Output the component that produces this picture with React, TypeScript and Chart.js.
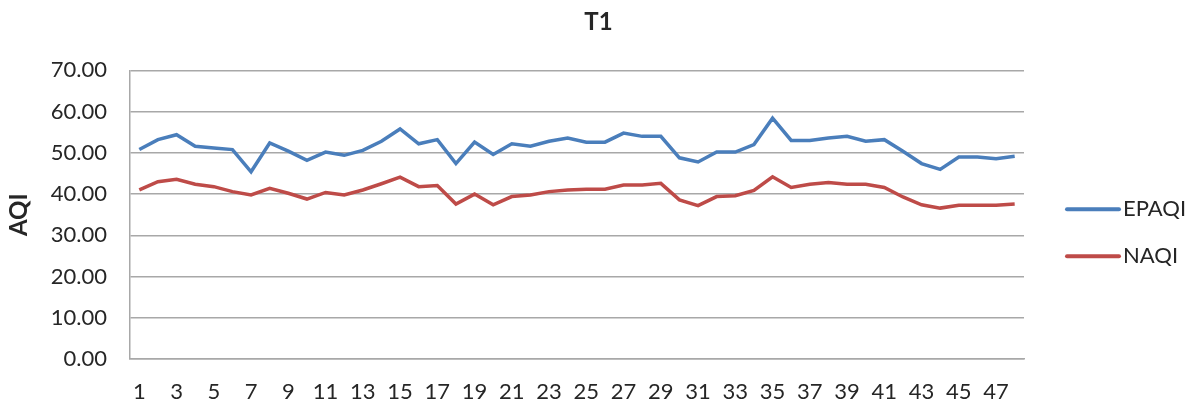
import React, { useEffect, useRef } from "react";
import { Chart, registerables } from "chart.js";

Chart.register(...registerables);

const categories = [
  "1", "2", "3", "4", "5", "6", "7", "8", "9", "10", "11", "12",
  "13", "14", "15", "16", "17", "18", "19", "20", "21", "22", "23", "24",
  "25", "26", "27", "28", "29", "30", "31", "32", "33", "34", "35", "36",
  "37", "38", "39", "40", "41", "42", "43", "44", "45", "46", "47", "48",
];

const epaqi = [
  50.8, 53.2, 54.4, 51.6, 51.2, 50.8, 45.4, 52.4, 50.4, 48.2, 50.2, 49.4,
  50.6, 52.8, 55.8, 52.2, 53.2, 47.4, 52.6, 49.6, 52.2, 51.6, 52.8, 53.6,
  52.6, 52.6, 54.8, 54.0, 54.0, 48.8, 47.8, 50.2, 50.2, 52.0, 58.4, 53.0,
  53.0, 53.6, 54.0, 52.8, 53.2, 50.4, 47.4, 46.0, 49.0, 49.0, 48.6, 49.2,
];

const naqi = [
  41.0, 43.0, 43.6, 42.4, 41.8, 40.6, 39.8, 41.4, 40.2, 38.8, 40.4, 39.8,
  41.0, 42.5, 44.1, 41.8, 42.1, 37.6, 40.0, 37.4, 39.4, 39.8, 40.6, 41.0,
  41.2, 41.2, 42.2, 42.2, 42.6, 38.6, 37.2, 39.4, 39.6, 40.9, 44.2, 41.6,
  42.4, 42.8, 42.4, 42.4, 41.6, 39.3, 37.4, 36.6, 37.3, 37.3, 37.3, 37.6,
];

const xTickLabels = [
  "1", "3", "5", "7", "9", "11", "13", "15", "17", "19", "21", "23",
  "25", "27", "29", "31", "33", "35", "37", "39", "41", "43", "45", "47",
];

const yMin = 0;
const yMax = 70;
const yStep = 10;

const seriesNames = ["EPAQI", "NAQI"];
const seriesColors = ["#4a7ebb", "#be4b48"];

const titleText = "T1";
const yTitleText = "AQI";

const FONT = "Lato, 'Open Sans', sans-serif";
const TEXT_COLOR = "#262626";
const GRID_COLOR = "#a8a8a8";

const sideLegend = {
  id: "sideLegend",
  afterDraw(chart: any) {
    const { ctx, chartArea } = chart;
    const x0 = chartArea.right + 41;
    const midY = (chartArea.top + chartArea.bottom) / 2 + 18;
    chart.data.datasets.forEach((ds: any, i: number) => {
      const y = midY + (i - 0.5) * 47;
      ctx.save();
      ctx.strokeStyle = ds.borderColor;
      ctx.lineWidth = 4;
      ctx.lineCap = "round";
      ctx.beginPath();
      ctx.moveTo(x0 + 2, y);
      ctx.lineTo(x0 + 54, y);
      ctx.stroke();
      ctx.fillStyle = TEXT_COLOR;
      ctx.font = `22px ${FONT}`;
      ctx.textBaseline = "middle";
      ctx.textAlign = "left";
      ctx.fillText(ds.label, x0 + 58, y);
      ctx.restore();
    });
  },
};

export default function App() {
  const canvasRef = useRef<HTMLCanvasElement | null>(null);

  useEffect(() => {
    if (!canvasRef.current) return;
    const chart = new Chart(canvasRef.current, {
      type: "line",
      data: {
        labels: categories,
        datasets: [
          {
            label: seriesNames[0],
            data: epaqi,
            borderColor: seriesColors[0],
            backgroundColor: seriesColors[0],
            borderWidth: 3.5,
            pointRadius: 0,
            tension: 0,
            fill: false,
          },
          {
            label: seriesNames[1],
            data: naqi,
            borderColor: seriesColors[1],
            backgroundColor: seriesColors[1],
            borderWidth: 3.5,
            pointRadius: 0,
            tension: 0,
            fill: false,
          },
        ],
      },
      options: {
        responsive: false,
        animation: false,
        devicePixelRatio: 1,
        layout: { padding: 0 },
        plugins: {
          legend: { display: false },
          tooltip: { enabled: false },
          title: {
            display: true,
            text: titleText,
            color: TEXT_COLOR,
            font: { family: FONT, size: 24, weight: "bold" },
            padding: { top: 8, bottom: 33.6 },
          },
        },
        scales: {
          x: {
            type: "category",
            offset: true,
            grid: { display: false, drawTicks: false },
            border: { display: true, color: GRID_COLOR, width: 1.5 },
            ticks: {
              autoSkip: false,
              maxRotation: 0,
              minRotation: 0,
              padding: 20,
              color: TEXT_COLOR,
              font: { family: FONT, size: 22 },
              callback: (_v: any, idx: number) =>
                xTickLabels.includes(categories[idx]) ? categories[idx] : "",
            },
            afterFit: (s: any) => {
              s.height = 47;
            },
          },
          y: {
            type: "linear",
            position: "left",
            min: yMin,
            max: yMax,
            grid: { color: GRID_COLOR, lineWidth: 1.5, drawTicks: false },
            border: { display: true, color: GRID_COLOR, width: 1.5 },
            ticks: {
              stepSize: yStep,
              padding: 23,
              color: TEXT_COLOR,
              font: { family: FONT, size: 22 },
              callback: (v: any) => Number(v).toFixed(2),
            },
            title: {
              display: true,
              text: yTitleText,
              color: TEXT_COLOR,
              font: { family: FONT, size: 24, weight: "bold" },
              padding: { top: 5, bottom: 0 },
            },
            afterFit: (s: any) => {
              s.width = 130;
            },
          },
          yRight: {
            type: "linear",
            position: "right",
            display: true,
            grid: { display: false, drawTicks: false },
            border: { display: false },
            ticks: { display: false },
            afterFit: (s: any) => {
              s.width = 173;
            },
          },
        },
      },
      plugins: [sideLegend],
    });
    return () => chart.destroy();
  }, []);

  return (
    <div style={{ position: "fixed", left: 0, top: 0, width: 1197, height: 406, background: "#fff" }}>
      <canvas ref={canvasRef} width={1197} height={406} style={{ display: "block" }} />
    </div>
  );
}
